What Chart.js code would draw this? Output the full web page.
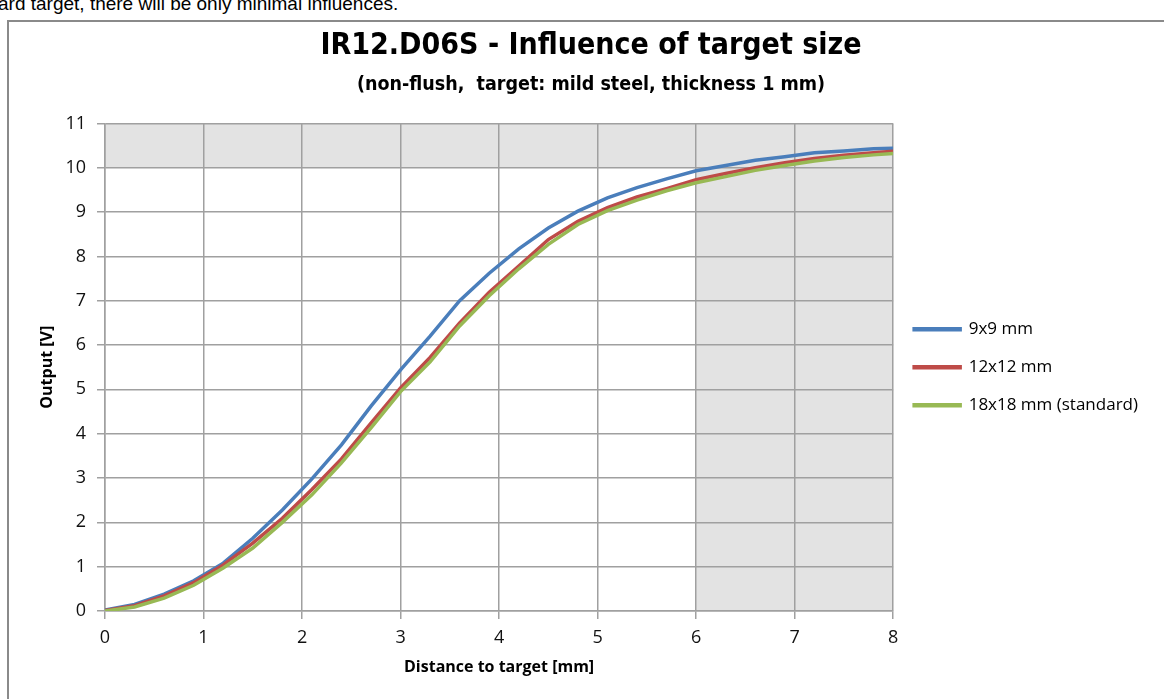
<!DOCTYPE html>
<html>
<head>
<meta charset="utf-8">
<title>IR12.D06S - Influence of target size</title>
<script src="https://cdn.jsdelivr.net/npm/chart.js@4.4.1/dist/chart.umd.min.js"></script>
<style>
  html, body { margin: 0; padding: 0; background: #fff; }
  body { width: 1164px; height: 699px; position: relative; overflow: hidden; }
  #note {
    position: absolute; left: -2px; top: -7px; white-space: nowrap;
    font: 19px 'Liberation Sans', Arial, sans-serif; color: #000;
  }
  #frame {
    position: absolute; left: 7px; top: 20px; width: 1300px; height: 800px;
    border-left: 2px solid #8a8a8a; border-top: 2px solid #8a8a8a;
  }
  #chart { position: absolute; left: 0; top: 0; }
</style>
</head>
<body>
<div id="note">ard target, there will be only minimal influences.</div>
<div id="frame"></div>
<canvas id="chart" width="1164" height="699"></canvas>
<script>
// distance to target [mm]
const distances = [0, 0.3, 0.6, 0.9, 1.2, 1.5, 1.8, 2.1, 2.4, 2.7, 3.0, 3.3, 3.6, 3.9,
  4.2, 4.5, 4.8, 5.1, 5.4, 5.7, 6.0, 6.3, 6.6, 6.9, 7.2, 7.5, 7.8, 8.0]

// output [V] per target size
const out9x9 = [0.02, 0.15, 0.38, 0.68, 1.08, 1.64, 2.28, 2.98, 3.75, 4.62, 5.44, 6.2, 7.0, 7.62,
  8.17, 8.64, 9.02, 9.32, 9.55, 9.75, 9.93, 10.05, 10.17, 10.25, 10.34, 10.38, 10.43, 10.44]
const out12x12 = [0.01, 0.12, 0.34, 0.64, 1.04, 1.53, 2.09, 2.74, 3.43, 4.24, 5.03, 5.72, 6.5, 7.19,
  7.78, 8.38, 8.79, 9.1, 9.34, 9.53, 9.73, 9.87, 10.0, 10.11, 10.21, 10.28, 10.34, 10.37]
const out18x18 = [0, 0.09, 0.29, 0.58, 0.97, 1.42, 2.0, 2.62, 3.34, 4.13, 4.95, 5.62, 6.43, 7.11,
  7.72, 8.27, 8.72, 9.03, 9.27, 9.48, 9.66, 9.8, 9.94, 10.05, 10.15, 10.23, 10.29, 10.32]

const seriesLabels = ['9x9 mm', '12x12 mm', '18x18 mm (standard)']
const seriesColors = ['#4a7ebb', '#be4b48', '#98b954']

// shaded zones of the plot (x from 6 mm on, y above 10 V)
const shadeFromX = 6
const shadeFromY = 10

const toPoints = (ys) => ys.map((y, i) => ({ x: distances[i], y }))

const shadePlugin = {
  id: 'shade',
  beforeDraw(chart) {
    const { ctx, chartArea, scales: { x, y } } = chart
    const xs = x.getPixelForValue(shadeFromX)
    const ys = y.getPixelForValue(shadeFromY)
    ctx.save()
    ctx.fillStyle = '#e3e3e3'
    ctx.fillRect(xs, chartArea.top, chartArea.right - xs, chartArea.bottom - chartArea.top)
    ctx.fillRect(chartArea.left, chartArea.top, xs - chartArea.left, ys - chartArea.top)
    ctx.restore()
  },
}

const tickFont = { family: "'Open Sans', 'Noto Sans', sans-serif", size: 18 }
const legendFont = { family: "'Open Sans', 'Noto Sans', sans-serif", size: 17 }
const boldFont = { family: "'Open Sans', 'Noto Sans', sans-serif", size: 16, weight: 'bold' }
const narrowFont = "'Liberation Sans Narrow', 'DejaVu Sans Condensed', sans-serif"
const gridStyle = { color: '#a0a0a0', lineWidth: 1.5, tickLength: 8, tickColor: '#a0a0a0' }

new Chart(document.getElementById('chart'), {
  type: 'line',
  data: {
    datasets: [out9x9, out12x12, out18x18].map((ys, i) => ({
      label: seriesLabels[i],
      data: toPoints(ys),
      borderColor: seriesColors[i],
      backgroundColor: seriesColors[i],
      borderWidth: 3.5,
      pointRadius: 0,
      tension: 0,
      order: 2 - i,
    })),
  },
  options: {
    responsive: false,
    animation: false,
    layout: { padding: { top: 28, left: 34, right: 16, bottom: 18 } },
    plugins: {
      tooltip: { enabled: false },
      title: {
        display: true,
        text: 'IR12.D06S - Influence of target size',
        color: '#000',
        font: { family: narrowFont, size: 30, weight: 'bold' },
        padding: { top: 0, bottom: 0 },
      },
      subtitle: {
        display: true,
        text: '(non-flush,  target: mild steel, thickness 1 mm)',
        color: '#000',
        font: { family: narrowFont, size: 19.5, weight: 'bold' },
        padding: { top: 9, bottom: 27 },
      },
      legend: {
        position: 'right',
        fullSize: false,
        labels: {
          boxWidth: 46,
          boxHeight: 1,
          padding: 21,
          color: '#000',
          font: legendFont,
          sort: (a, b) => a.datasetIndex - b.datasetIndex,
        },
      },
    },
    scales: {
      x: {
        type: 'linear',
        min: 0,
        max: 8,
        ticks: { stepSize: 1, color: '#111', font: tickFont, padding: 8 },
        grid: gridStyle,
        border: { color: '#a0a0a0', width: 1.5 },
        title: { display: true, text: 'Distance to target [mm]', color: '#000', font: boldFont },
        afterFit: (s) => { s.height = 70 },
      },
      y: {
        min: 0,
        max: 11,
        ticks: { stepSize: 1, color: '#111', font: tickFont, padding: 11 },
        grid: gridStyle,
        border: { color: '#a0a0a0', width: 1.5 },
        title: { display: true, text: 'Output [V]', color: '#000', font: boldFont },
        afterFit: (s) => { s.width = 71 },
      },
    },
  },
  plugins: [shadePlugin],
})
</script>
</body>
</html>
